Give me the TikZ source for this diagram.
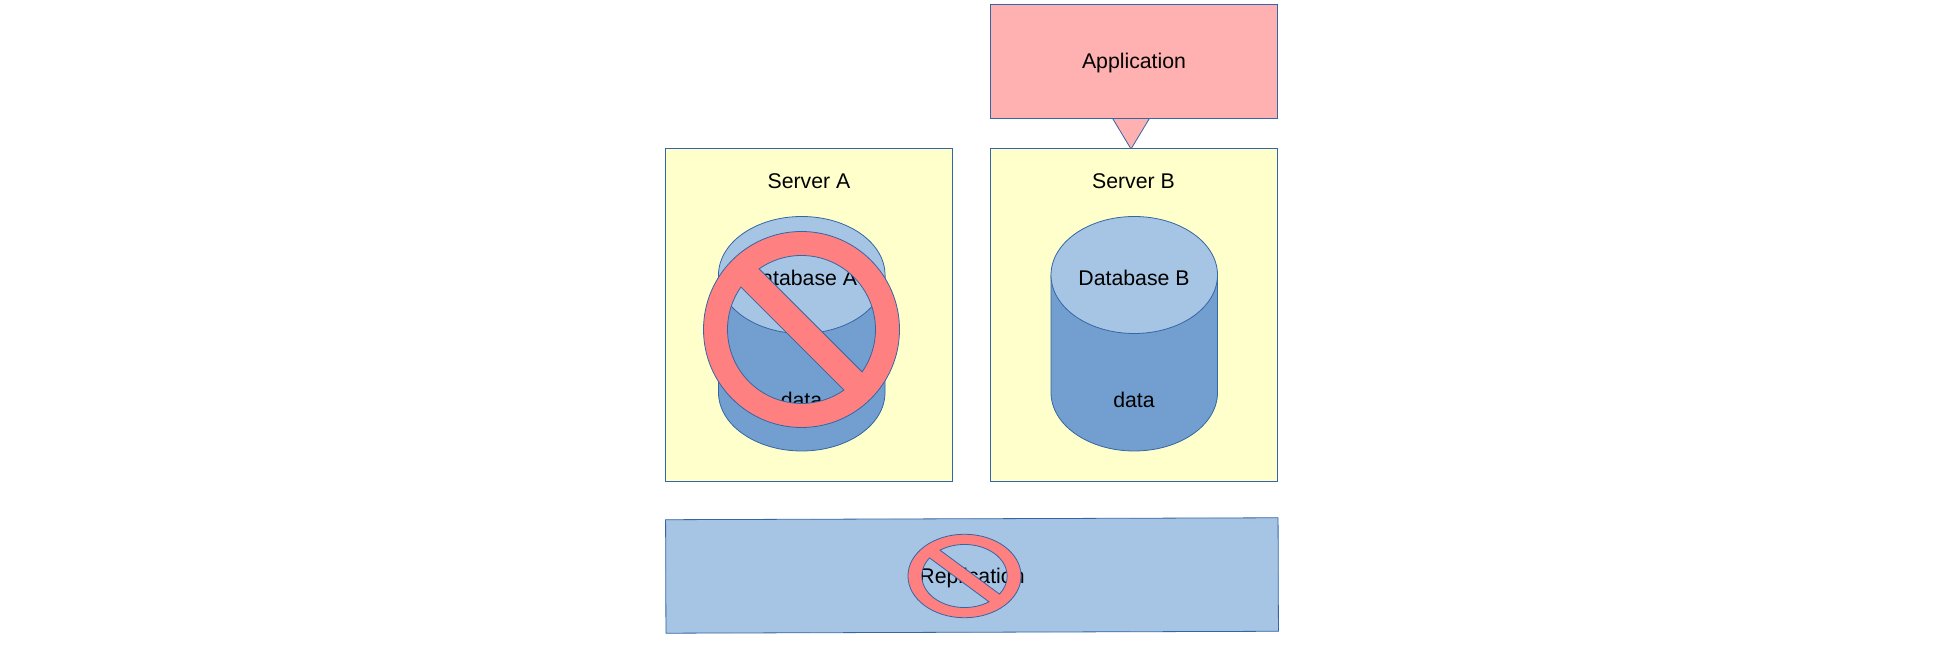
\documentclass[tikz,border=0pt]{standalone}
\usepackage{fontspec}
\setmainfont{Liberation Sans}
\usetikzlibrary{positioning}
\definecolor{edgeblue}{RGB}{52,101,164}
\definecolor{appred}{RGB}{255,176,176}
\definecolor{serveryellow}{RGB}{255,255,204}
\definecolor{dbtop}{RGB}{166,196,227}
\definecolor{dbbody}{RGB}{114,159,207}
\definecolor{banred}{RGB}{255,128,128}
\tikzset{
  outline/.style={draw=edgeblue,line width=0.45pt},
  boxed/.style={outline,minimum width=5.74cm,inner sep=0pt,align=center},
  application/.style={boxed,fill=appred,minimum height=2.28cm},
  server/.style={boxed,fill=serveryellow,minimum height=6.66cm},
  replicationbar/.style={boxed,fill=dbtop,minimum width=12.25cm,minimum height=2.27cm,rotate=0.18},
  lab/.style={inner sep=0pt},
  banned/.style={outline,fill=banred,even odd rule},
  database/.pic={
    \path[outline,fill=dbbody] (-1.665,0) -- (-1.665,-2.35)
      arc[start angle=180,end angle=360,x radius=1.665,y radius=1.17] -- (1.665,0) -- cycle;
    \path[outline,fill=dbtop] (0,0) ellipse [x radius=1.665,y radius=1.17];
  },
  noentry/.pic={
    \path[banned] (0,0) circle [radius=1.96]
      (145:1.48) arc[start angle=145,end angle=305,radius=1.48] -- cycle
      (125:1.48) arc[start angle=125,end angle=-35,radius=1.48] -- cycle;
  },
}
\begin{document}
\begin{tikzpicture}[x=1cm,y=1cm,font=\fontsize{12.1}{14}\selectfont]
  \path[use as bounding box] (0,0) rectangle (39,13);

  \path[outline,fill=appred] (22.24,10.65) -- (23.0,10.65) -- (22.62,10.02) -- cycle;
  \node[application] (app) at (22.685,11.78) {};
  \node[lab] (applabel) at (22.68,11.74) {Application};

  \node[server] (servera) at (16.185,6.70) {};
  \node[server] (serverb) at (22.685,6.70) {};
  \node[lab] (titlea) at (16.18,9.38) {Server A};
  \node[lab] (titleb) at (22.67,9.38) {Server B};

  \pic at (16.035,7.50) {database};
  \node[lab] (dba) at (16.03,7.44) {Database A};
  \node[lab] (dataa) at (16.03,5.00) {data};
  \pic at (22.685,7.50) {database};
  \node[lab] (dbb) at (22.68,7.44) {Database B};
  \node[lab] (datab) at (22.68,5.00) {data};

  \pic at (16.03,6.41) {noentry};

  \node[replicationbar] (replication) at (19.44,1.49) {};
  \node[lab] (replabel) at (19.44,1.43) {Replication};
  \pic[xscale=0.577,yscale=0.426] at (19.29,1.48) {noentry};
\end{tikzpicture}
\end{document}
